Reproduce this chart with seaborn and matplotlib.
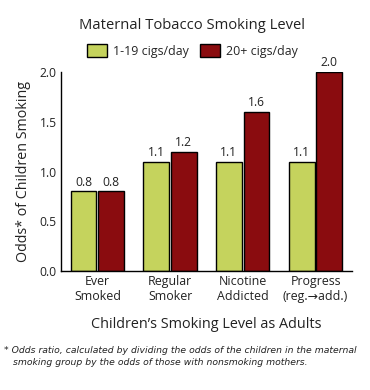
import matplotlib
matplotlib.use("Agg")
import matplotlib.pyplot as plt
import seaborn as sns
import pandas as pd
from matplotlib.patches import Patch

categories = ["Ever\nSmoked", "Regular\nSmoker", "Nicotine\nAddicted", "Progress\n(reg.\u2192add.)"]
series_names = ["1-19 cigs/day", "20+ cigs/day"]
light_values = [0.8, 1.1, 1.1, 1.1]
heavy_values = [0.8, 1.2, 1.6, 2.0]
y_ticks = [0.0, 0.5, 1.0, 1.5, 2.0]
colors = ["#c5d35d", "#8a0c0f"]

df = pd.DataFrame({
    "category": categories * 2,
    "group": [series_names[0]] * 4 + [series_names[1]] * 4,
    "odds": light_values + heavy_values,
})

sns.set_style("white")
plt.rcParams["font.family"] = ["Open Sans", "DejaVu Sans"]

fig = plt.figure(figsize=(3.7, 3.9), dpi=100)
ax = fig.add_axes([0.165, 0.305, 0.786, 0.51])

sns.barplot(data=df, x="category", y="odds", hue="group", order=categories,
            hue_order=series_names, palette=colors, saturation=1, width=0.76, gap=0.07,
            edgecolor="black", linewidth=1.0, ax=ax, legend=False)

for cont in ax.containers:
    ax.bar_label(cont, fmt="%.1f", padding=2, fontsize=8.7, color="#222222")

ax.set_xlim(-0.5, 3.5)
ax.set_ylim(0, 2.0)
ax.set_yticks(y_ticks)
ax.set_yticklabels([f"{t:.1f}" for t in y_ticks], fontsize=8.7, color="#222222")
ax.tick_params(axis="x", labelsize=8.9, length=0, pad=3, colors="#222222")
ax.tick_params(axis="y", length=0, pad=3)
for s in ["top", "right"]:
    ax.spines[s].set_visible(False)
for s in ["left", "bottom"]:
    ax.spines[s].set_color("black")
    ax.spines[s].set_linewidth(1.0)

ax.set_xlabel("Children\u2019s Smoking Level as Adults", fontsize=10.4, color="#222222", labelpad=10)
ax.set_ylabel("Odds* of Children Smoking", fontsize=10.3, color="#222222", labelpad=6)

fig.text(0.52, 0.935, "Maternal Tobacco Smoking Level", ha="center", va="center",
         fontsize=10.6, color="#222222")
handles = [Patch(facecolor=c, edgecolor="black", linewidth=1.0) for c in colors]
fig.legend(handles, series_names, loc="center", bbox_to_anchor=(0.52, 0.87), ncol=2,
           frameon=False, fontsize=8.9, handlelength=1.6, handleheight=1.3,
           columnspacing=0.9, handletextpad=0.5)

fig.text(0.012, 0.085, "* Odds ratio, calculated by dividing the odds of the children in the maternal\n   smoking group by the odds of those with nonsmoking mothers.",
         ha="left", va="center", fontsize=6.7, style="italic", color="#222222",
         family=["Liberation Sans Narrow", "DejaVu Sans"], linespacing=1.4)

fig.savefig("out.png", dpi=100)
